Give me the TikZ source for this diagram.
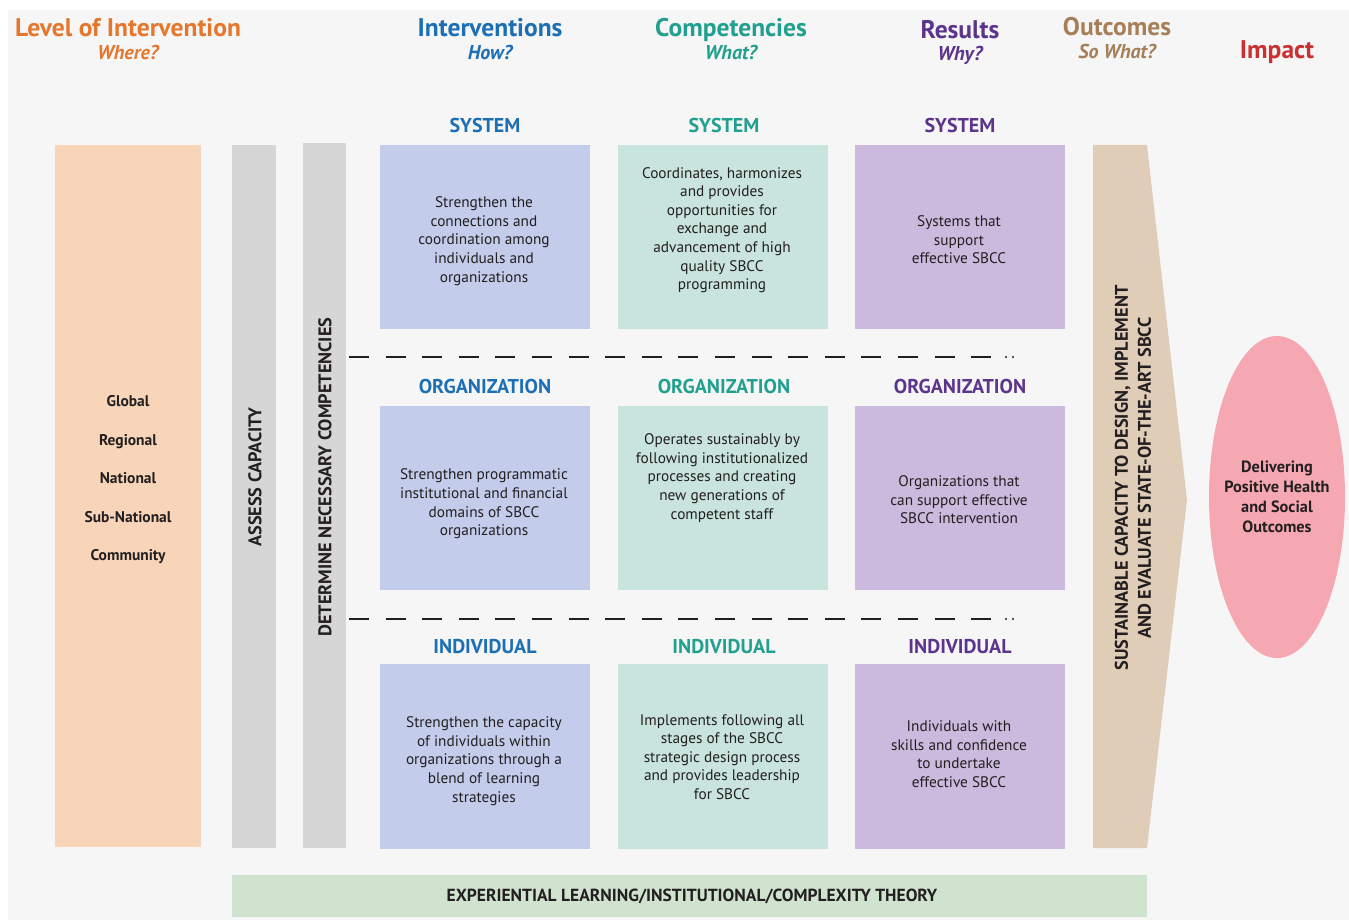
\documentclass[tikz,border=0pt]{standalone}
\usepackage{fontspec}
\setmainfont{PT Sans}
\usetikzlibrary{shapes.geometric}
\definecolor{panelbg}{HTML}{F6F6F6}
\definecolor{peach}{HTML}{F8D5B9}
\definecolor{barGray}{HTML}{D7D6D7}
\definecolor{boxBlue}{HTML}{C3CDEB}
\definecolor{boxTeal}{HTML}{C8E4DD}
\definecolor{boxPurple}{HTML}{CBBADD}
\definecolor{tanArrow}{HTML}{DFCDB8}
\definecolor{pinkEll}{HTML}{F6A8B2}
\definecolor{greenBar}{HTML}{D0E3CF}
\definecolor{hOrange}{HTML}{E5762C}
\definecolor{hBlue}{HTML}{1C6FB5}
\definecolor{hTeal}{HTML}{21A08F}
\definecolor{hPurple}{HTML}{5C348B}
\definecolor{hTan}{HTML}{A67F59}
\definecolor{hRed}{HTML}{C9302F}
\definecolor{txt}{HTML}{231F20}
\tikzset{
  colbox/.style={rectangle, inner sep=0pt, minimum width=210pt, minimum height=184pt},
  body/.style={align=center, text=txt, inner sep=0pt, font=\fontsize{15.3}{18.6}\selectfont},
  head/.style={anchor=base, inner sep=0pt, font=\bfseries\fontsize{25.5}{27}\selectfont},
  sub/.style={anchor=base, inner sep=0pt, font=\bfseries\itshape\fontsize{20}{22}\selectfont},
  sect/.style={inner sep=0pt, font=\bfseries\fontsize{20}{22}\selectfont},
  vert/.style={rotate=90, align=center, text=txt, inner sep=0pt, font=\bfseries\fontsize{18.3}{23}\selectfont},
  sepline/.style={line width=2pt, dash pattern=on 20pt off 16.6pt, txt}
}
\begin{document}
\begin{tikzpicture}[x=1pt, y=-1pt]
\useasboundingbox (0,0) rectangle (1349,920);
\fill[white] (0,0) rectangle (1349,920);
\fill[panelbg] (8,10) rectangle (1349,920);

% headers
\node[head, text=hOrange] (h1) at (128,37) {Level of Intervention};
\node[sub, text=hOrange] (s1) at (128,60) {Where?};
\node[head, text=hBlue] (h2) at (490,37) {Interventions};
\node[sub, text=hBlue] (s2) at (490,60) {How?};
\node[head, text=hTeal] (h3) at (731,37) {Competencies};
\node[sub, text=hTeal] (s3) at (731,60) {What?};
\node[head, text=hPurple] (h4) at (960,39) {Results};
\node[sub, text=hPurple] (s4) at (960,61) {Why?};
\node[head, text=hTan] (h5) at (1117,36) {Outcomes};
\node[sub, text=hTan] (s5) at (1117,59) {So What?};
\node[head, text=hRed] (h6) at (1277,59) {Impact};

% left column
\node[rectangle, fill=peach, minimum width=146pt, minimum height=702pt, inner sep=0pt] (lvl) at (128,496) {};
\node[body, font=\bfseries\fontsize{15.5}{38.5}\selectfont] (lvlt) at (128,480) {Global\\Regional\\National\\Sub-National\\Community};

\node[rectangle, fill=barGray, minimum width=44pt, minimum height=703pt, inner sep=0pt] (assess) at (254,496.5) {};
\node[vert] (assesst) at (255,477) {ASSESS CAPACITY};
\node[rectangle, fill=barGray, minimum width=43pt, minimum height=705pt, inner sep=0pt] (determ) at (324.5,495.5) {};
\node[vert] (determt) at (325,477) {DETERMINE NECESSARY COMPETENCIES};

% section headers
\node[sect, text=hBlue] (sys1) at (485,126) {SYSTEM};
\node[sect, text=hTeal] (sys2) at (724,126) {SYSTEM};
\node[sect, text=hPurple] (sys3) at (960,126) {SYSTEM};
\node[sect, text=hBlue] (org1) at (485,386) {ORGANIZATION};
\node[sect, text=hTeal] (org2) at (724,386) {ORGANIZATION};
\node[sect, text=hPurple] (org3) at (960,386) {ORGANIZATION};
\node[sect, text=hBlue] (ind1) at (485,647) {INDIVIDUAL};
\node[sect, text=hTeal] (ind2) at (724,647) {INDIVIDUAL};
\node[sect, text=hPurple] (ind3) at (960,647) {INDIVIDUAL};

% boxes
\node[colbox, fill=boxBlue] (bs) at (485,237) {};
\node[colbox, fill=boxTeal] (ts) at (723,237) {};
\node[colbox, fill=boxPurple] (ps) at (959.5,237) {};
\node[colbox, fill=boxBlue] (bo) at (485,498) {};
\node[colbox, fill=boxTeal] (to) at (723,498) {};
\node[colbox, fill=boxPurple] (po) at (959.5,498) {};
\node[colbox, fill=boxBlue, minimum height=185pt] (bi) at (485,756.5) {};
\node[colbox, fill=boxTeal, minimum height=185pt] (ti) at (723,756.5) {};
\node[colbox, fill=boxPurple, minimum height=185pt] (pi) at (959.5,756.5) {};

\node[body] (bst) at (484,241) {Strengthen the\\connections and\\coordination among\\individuals and\\organizations};
\node[body] (tst) at (722,230) {Coordinates, harmonizes\\and provides\\opportunities for\\exchange and\\advancement of high\\quality SBCC\\programming};
\node[body] (pst) at (959,240) {Systems that\\support\\effective SBCC};
\node[body] (bot) at (484,504) {Strengthen programmatic\\institutional and financial\\domains of SBCC\\organizations};
\node[body] (tot) at (722,478) {Operates sustainably by\\following institutionalized\\processes and creating\\new generations of\\competent staff};
\node[body] (pot) at (959,500) {Organizations that\\can support effective\\SBCC intervention};
\node[body] (bit) at (484,761) {Strengthen the capacity\\of individuals within\\organizations through a\\blend of learning\\strategies};
\node[body] (tit) at (722,757) {Implements following all\\stages of the SBCC\\strategic design process\\and provides leadership\\for SBCC};
\node[body] (pit) at (959,754) {Individuals with\\skills and confidence\\to undertake\\effective SBCC};

% dashed separators
\coordinate (d1a) at (349,357);
\coordinate (d1b) at (992,357);
\coordinate (d2a) at (349,619);
\coordinate (d2b) at (992,619);
\draw[sepline] (d1a) -- (d1b);
\draw[sepline] (d2a) -- (d2b);
\fill[txt] (1006,357) circle (1.2pt) (1013,357) circle (1.2pt);
\fill[txt] (1006,619) circle (1.2pt) (1013,619) circle (1.2pt);

% outcome arrow
\fill[tanArrow] (1093,145) -- (1147,145) -- (1187,500) -- (1147,848) -- (1093,848) -- cycle;
\node[vert] (outt) at (1133,478) {SUSTAINABLE CAPACITY TO DESIGN, IMPLEMENT\\AND EVALUATE STATE-OF-THE-ART SBCC};

% impact
\node[ellipse, fill=pinkEll, minimum width=136pt, minimum height=322pt, inner sep=0pt] (imp) at (1277,497) {};
\node[body, font=\bfseries\fontsize{16.3}{20}\selectfont] (impt) at (1277,496.5) {Delivering\\Positive Health\\and Social\\Outcomes};

% bottom bar
\node[rectangle, fill=greenBar, minimum width=915pt, minimum height=42pt, inner sep=0pt] (theory) at (689.5,896) {};
\node[body, font=\bfseries\fontsize{17.5}{18}\selectfont] (theoryt) at (692,896) {EXPERIENTIAL LEARNING/INSTITUTIONAL/COMPLEXITY THEORY};
\end{tikzpicture}
\end{document}
